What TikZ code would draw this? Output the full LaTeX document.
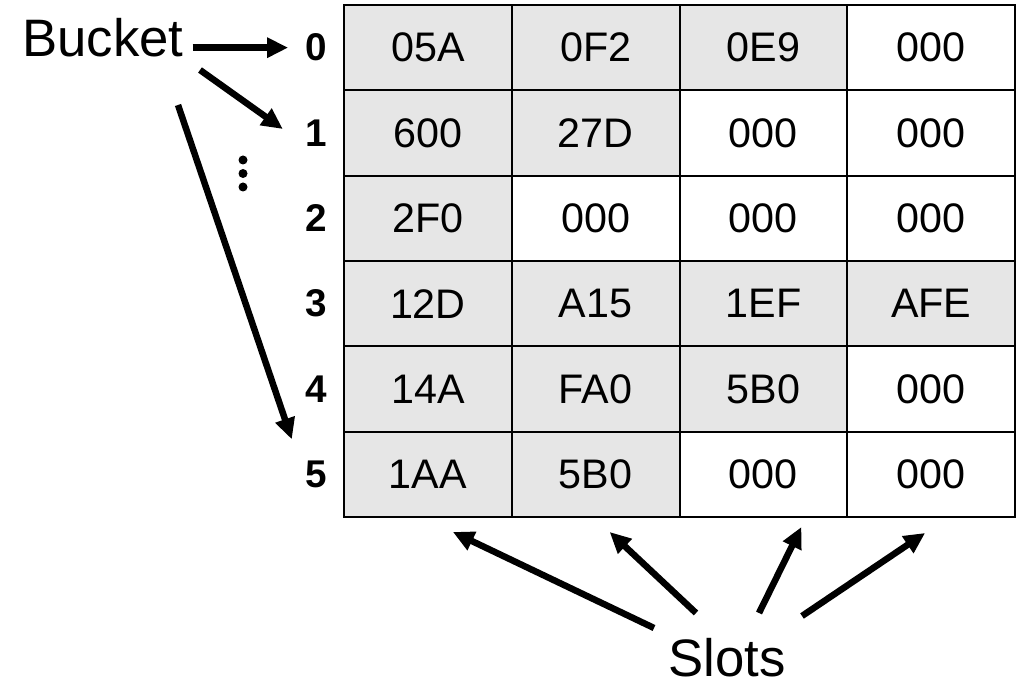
\documentclass[tikz,border=0pt]{standalone}
\usepackage{fontspec}
\setmainfont{Liberation Sans}
\usetikzlibrary{arrows.meta}
\definecolor{slotgray}{HTML}{E6E6E6}

\begin{document}
\begin{tikzpicture}
[
    x=0.02cm, y=-0.02cm,
    slot/.style={draw, line width=1.1pt, minimum width=3.355cm, minimum height=1.7067cm,
        inner sep=0, outer sep=0, font=\fontsize{23.5}{28}\selectfont},
    used/.style={fill=slotgray},
    free/.style={fill=white},
    idx/.style={anchor=east, inner sep=0, font=\fontsize{22}{26}\selectfont\bfseries},
    big/.style={anchor=base, inner sep=0, font=\fontsize{#1}{34}\selectfont},
    ptr/.style={line width=3.7pt, -{Triangle[length=12pt, width=11pt]}},
]
\useasboundingbox (0,0) rectangle (1023,685);

\foreach \r/\row in {0/{05A/used,0F2/used,0E9/used,000/free},
                     1/{600/used,27D/used,000/free,000/free},
                     2/{2F0/used,000/free,000/free,000/free},
                     3/{12D/used,A15/used,1EF/used,AFE/used},
                     4/{14A/used,FA0/used,5B0/used,000/free},
                     5/{1AA/used,5B0/used,000/free,000/free}}
{
    \node[idx] (b\r) at (327, {47.67+85.33*\r}) {\r};
    \foreach [count=\c from 0] \v/\k in \row
        \node[slot, \k] (c-\r-\c) at ({427.9+167.75*\c}, {47.67+85.33*\r}) {\v};
}

\foreach \y in {160,173.5,187}
    \fill (243,\y) circle (4.5);

\node[big=30] (bucket) at (103,57) {Bucket};
\node[big=30] (slots) at (727,676) {Slots};

\coordinate (p1) at (200,70);
\coordinate (p5) at (178,105);
\draw[ptr] ([xshift=5pt]bucket.east |- b0) -- ([xshift=-9.5pt]b0.west);
\draw[ptr] (p1) -- ([shift={(-22,-4)}]b1.west);
\draw[ptr] (p5) -- ([shift={(-13,-35)}]b5.west);

\coordinate (s0) at (654,628);
\coordinate (s1) at (696,613);
\coordinate (s2) at (759,613);
\coordinate (s3) at (802,616);
\draw[ptr] (s0) -- ([shift={(25,15)}]c-5-0.south);
\draw[ptr] (s1) -- ([shift={(14,15)}]c-5-1.south);
\draw[ptr] (s2) -- ([shift={(38,10)}]c-5-2.south);
\draw[ptr] (s3) -- ([shift={(-6,16)}]c-5-3.south);
\end{tikzpicture}
\end{document}
